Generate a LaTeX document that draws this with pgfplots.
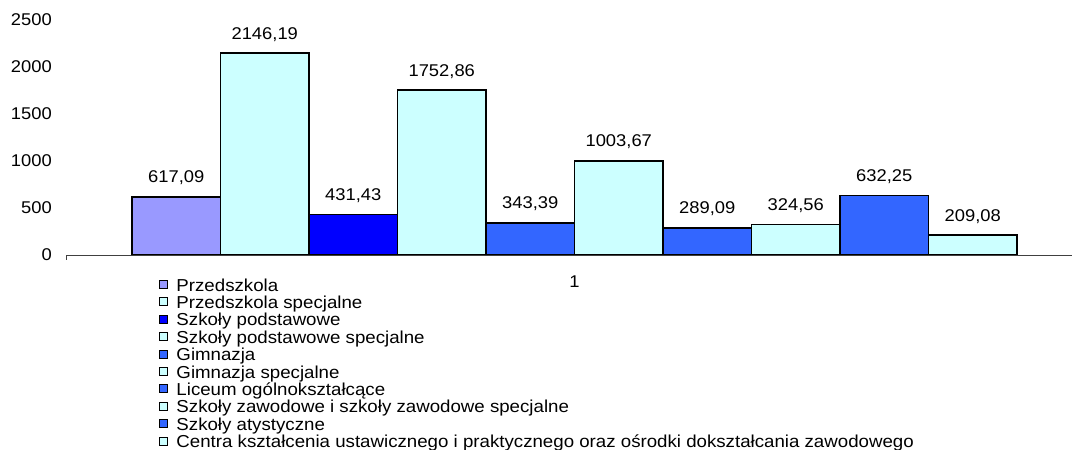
\documentclass[border=0pt]{standalone}
\usepackage{fontspec}
\setmainfont{Liberation Sans}[FakeStretch=1.08]
\usepackage{pgfplots}
\pgfplotsset{compat=1.18}
\definecolor{cPurple}{HTML}{9999FF}
\definecolor{cCyan}{HTML}{CCFFFF}
\definecolor{cBlue}{HTML}{0000FF}
\definecolor{cMid}{HTML}{3366FF}
\begin{document}
\begin{tikzpicture}[x=1pt,y=1pt]
\useasboundingbox (0,0) rectangle (1072,450);
\begin{axis}[
  at={(67pt,195pt)}, anchor=south west,
  scale only axis, width=1005pt, height=235pt,
  xmin=67, xmax=1072, ymin=0, ymax=2500,
  clip=false,
  axis line style={draw=none},
  tick style={draw=none},
  major tick length=0pt,
  ytick={0,500,1000,1500,2000,2500},
  xtick={574.5}, xticklabels={1},
  font=\fontsize{17}{17.4}\selectfont,
  tick label style={font=\fontsize{17}{17.4}\selectfont},
  /pgf/number format/assume math mode=true,
  /pgf/number format/1000 sep={},
  yticklabel style={anchor=east, inner sep=0pt, xshift=-15pt},
  xticklabel style={anchor=north, inner sep=0pt, yshift=-21pt},
  nodes near coords={\pgfmathprintnumber[use comma,fixed,precision=2,fixed zerofill,1000 sep={}]{\pgfplotspointmeta}},
  every node near coord/.append style={anchor=base, yshift=14pt, inner sep=0pt, font=\fontsize{17}{17.4}\selectfont},
  every axis plot post/.append style={legend image code/.code={\draw[##1, line width=1pt] (0pt,2.5pt) rectangle (8.5pt,10.5pt);}},
  legend cell align=left,
  legend style={at={(0.0915,-0.1)}, anchor=north west, draw=none, fill=none,
    inner sep=0pt, outer sep=0pt, row sep=0pt, column sep=8pt,
    nodes={inner sep=0pt, anchor=base west, text height=12.5pt, text depth=4.9pt},
    font=\fontsize{17.3}{17.4}\selectfont},
]
\addplot[ybar, bar width=88.5, bar shift=0pt, fill=cPurple, draw=black, line width=1.7pt] coordinates {(176.25,617.09)};
\addlegendentry{Przedszkola}
\addplot[ybar, bar width=88.5, bar shift=0pt, fill=cCyan, draw=black, line width=1.7pt] coordinates {(264.75,2146.19)};
\addlegendentry{Przedszkola specjalne}
\addplot[ybar, bar width=88.5, bar shift=0pt, fill=cBlue, draw=black, line width=1.7pt] coordinates {(353.25,431.43)};
\addlegendentry{Szkoły podstawowe}
\addplot[ybar, bar width=88.5, bar shift=0pt, fill=cCyan, draw=black, line width=1.7pt] coordinates {(441.75,1752.86)};
\addlegendentry{Szkoły podstawowe specjalne}
\addplot[ybar, bar width=88.5, bar shift=0pt, fill=cMid, draw=black, line width=1.7pt] coordinates {(530.25,343.39)};
\addlegendentry{Gimnazja}
\addplot[ybar, bar width=88.5, bar shift=0pt, fill=cCyan, draw=black, line width=1.7pt] coordinates {(618.75,1003.67)};
\addlegendentry{Gimnazja specjalne}
\addplot[ybar, bar width=88.5, bar shift=0pt, fill=cMid, draw=black, line width=1.7pt] coordinates {(707.25,289.09)};
\addlegendentry{Liceum ogólnokształcące}
\addplot[ybar, bar width=88.5, bar shift=0pt, fill=cCyan, draw=black, line width=1.7pt] coordinates {(795.75,324.56)};
\addlegendentry{Szkoły zawodowe i szkoły zawodowe specjalne}
\addplot[ybar, bar width=88.5, bar shift=0pt, fill=cMid, draw=black, line width=1.7pt] coordinates {(884.25,632.25)};
\addlegendentry{Szkoły atystyczne}
\addplot[ybar, bar width=88.5, bar shift=0pt, fill=cCyan, draw=black, line width=1.7pt] coordinates {(972.75,209.08)};
\addlegendentry{Centra kształcenia ustawicznego i praktycznego oraz ośrodki dokształcania zawodowego}
\draw[black!75, line width=1pt] (axis cs:67,0) -- (axis cs:1072,0);
\draw[black!75, line width=1pt] (axis cs:67,0) -- ([yshift=-5pt]axis cs:67,0);
\end{axis}
\end{tikzpicture}
\end{document}
